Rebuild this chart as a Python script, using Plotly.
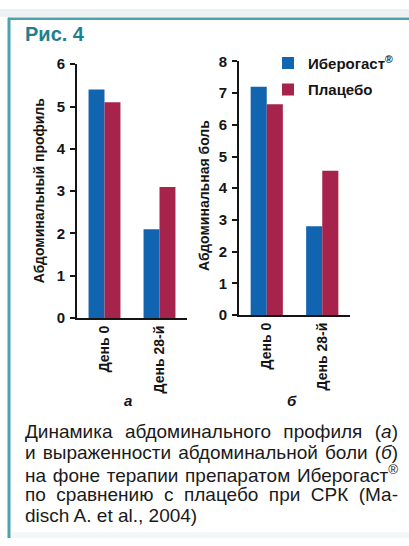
import plotly.graph_objects as go

# ---- data ----
days = ["День 0", "День 28-й"]
series_names = ["Иберогаст<sup>®</sup>", "Плацебо"]
profile_iberogast = [5.4, 2.1]
profile_placebo = [5.1, 3.1]
pain_iberogast = [7.2, 2.8]
pain_placebo = [6.65, 4.55]
profile_ticks = [0, 1, 2, 3, 4, 5, 6]
pain_ticks = [0, 1, 2, 3, 4, 5, 6, 7, 8]
panel_labels = ["а", "б"]
axis_titles = ["Абдоминальный профиль", "Абдоминальная боль"]
figure_title = "Рис. 4"
caption_lines = [
    "Динамика абдоминального профиля (<i>а</i>)",
    "и выраженности абдоминальной боли (<i>б</i>)",
    "на фоне терапии препаратом Иберогаст<sup>®</sup>",
    "по сравнению с плацебо при СРК (Ма-",
    "disch A. et al., 2004)",
]

# ---- style ----
W, H = 409, 546
BLUE = "#1165b0"
RED = "#a6234b"
TEAL = "#1e7f8d"
FRAME = "#4ea2ad"
INK = "#151515"
FONT = "Liberation Sans, Arial, sans-serif"


def fx(px):
    return px / W


def fy(py):
    return 1 - py / H


fig = go.Figure()

fig.add_trace(go.Bar(x=days, y=profile_iberogast, name=series_names[0],
                     marker=dict(color=BLUE, line=dict(width=0)),
                     xaxis="x", yaxis="y", legendgroup="a", showlegend=True))
fig.add_trace(go.Bar(x=days, y=profile_placebo, name=series_names[1],
                     marker=dict(color=RED, line=dict(width=0)),
                     xaxis="x", yaxis="y", legendgroup="b", showlegend=True))
fig.add_trace(go.Bar(x=days, y=pain_iberogast, name=series_names[0],
                     marker=dict(color=BLUE, line=dict(width=0)),
                     xaxis="x2", yaxis="y2", legendgroup="a", showlegend=False))
fig.add_trace(go.Bar(x=days, y=pain_placebo, name=series_names[1],
                     marker=dict(color=RED, line=dict(width=0)),
                     xaxis="x2", yaxis="y2", legendgroup="b", showlegend=False))

tickfont = dict(family=FONT, size=15, color=INK, weight="bold")
xtickfont = dict(family=FONT, size=14, color=INK, weight="bold")

common_x = dict(type="category", showline=True, linecolor=INK, linewidth=2,
                ticks="", showgrid=False, zeroline=False, tickangle=-90,
                tickfont=xtickfont, range=[-0.5, 1.5], fixedrange=True)
common_y = dict(showline=True, linecolor=INK, linewidth=2, ticks="outside",
                ticklen=5, tickwidth=2, tickcolor=INK, showgrid=False,
                zeroline=False, tickfont=tickfont, fixedrange=True,
                ticklabelstandoff=2)

fig.update_layout(
    width=W, height=H,
    margin=dict(l=0, r=0, t=0, b=0),
    paper_bgcolor="white", plot_bgcolor="white",
    barmode="group", bargap=0.42, bargroupgap=0,
    font=dict(family=FONT, color=INK),
    xaxis=dict(domain=[fx(77), fx(187)], anchor="y", **common_x),
    yaxis=dict(domain=[fy(319), fy(57)], anchor="x", range=[0, 6],
               tickvals=profile_ticks, **common_y),
    xaxis2=dict(domain=[fx(239), fx(350)], anchor="y2", **common_x),
    yaxis2=dict(domain=[fy(316), fy(54)], anchor="x2", range=[0, 8],
                tickvals=pain_ticks, **common_y),
    legend=dict(x=fx(268), y=fy(39), xanchor="left", yanchor="top",
                bgcolor="rgba(0,0,0,0)", borderwidth=0,
                font=dict(family=FONT, size=15, color=INK, weight="bold"),
                tracegroupgap=4, itemclick=False, itemdoubleclick=False),
)

annotations = []
# figure title
annotations.append(dict(text=figure_title, x=fx(23), y=fy(26), xref="paper", yref="paper",
                        xanchor="left", yanchor="middle", showarrow=False,
                        font=dict(family=FONT, size=20, color=TEAL, weight="bold")))
# axis titles
for t, cx, cy in zip(axis_titles, [39, 204], [188, 193]):
    annotations.append(dict(text=t, x=fx(cx), y=fy(cy), xref="paper", yref="paper",
                            textangle=-90, showarrow=False, xanchor="center", yanchor="middle",
                            font=dict(family=FONT, size=14, color=INK, weight="bold")))
# panel labels
for t, cx in zip(panel_labels, [128, 292]):
    annotations.append(dict(text=t, x=fx(cx), y=fy(404), xref="paper", yref="paper",
                            showarrow=False, xanchor="center", yanchor="middle",
                            font=dict(family=FONT, size=15, color=INK, weight="bold",
                                      style="italic")))
# caption
caption_first_index = len(annotations)
for i, line in enumerate(caption_lines):
    annotations.append(dict(text=line, x=fx(23), y=fy(436 + 21.8 * i), xref="paper", yref="paper",
                            showarrow=False, xanchor="left", yanchor="middle",
                            font=dict(family=FONT, size=19, color="#1a1a1a")))
fig.update_layout(annotations=annotations)

shapes = [
    dict(type="rect", xref="paper", yref="paper", x0=0, x1=1, y0=fy(8), y1=1,
         fillcolor="#eef1f1", line=dict(width=0), layer="below"),
    dict(type="rect", xref="paper", yref="paper", x0=fx(10), x1=1, y0=0, y1=fy(540),
         fillcolor="#f3f7f8", line=dict(width=0), layer="below"),
    dict(type="line", xref="paper", yref="paper", x0=fx(8), x1=1, y0=fy(10), y1=fy(10),
         line=dict(color=FRAME, width=2.5)),
    dict(type="line", xref="paper", yref="paper", x0=fx(9), x1=fx(9), y0=0, y1=fy(9),
         line=dict(color=FRAME, width=3)),
]
fig.update_layout(shapes=shapes)

# justify the caption lines (all but the last) to the text block width,
# keeping the left edge of each line where Plotly placed it
justify_idx = [caption_first_index + i for i in range(len(caption_lines) - 1)]
block_width = 373
post_js = """
(function(){
  var gd = document.getElementById('{plot_id}');
  var idx = %s;
  var target = %d;
  function justify(){
    var groups = gd.querySelectorAll('g.annotation');
    groups.forEach(function(g){
      var k = parseInt(g.getAttribute('data-index'));
      if (idx.indexOf(k) < 0) return;
      var t = g.querySelector('text.annotation-text');
      if (!t) return;
      if (!t.hasAttribute('data-x0')) { t.setAttribute('data-x0', t.getAttribute('x') || '0'); }
      var x0 = parseFloat(t.getAttribute('data-x0'));
      t.setAttribute('x', x0);
      t.style.wordSpacing = '0px';
      var b0 = t.getBBox();
      var w = t.getComputedTextLength();
      var n = (t.textContent.match(/ /g) || []).length;
      if (n > 0) { t.style.wordSpacing = ((target - w) / n) + 'px'; }
      var b1 = t.getBBox();
      t.setAttribute('x', x0 + (b0.x - b1.x));
    });
  }
  justify();
  if (gd.on) { gd.on('plotly_afterplot', justify); }
})();
""" % (str(justify_idx), block_width)

fig.write_html("out.html", config={"displayModeBar": False}, post_script=post_js)
